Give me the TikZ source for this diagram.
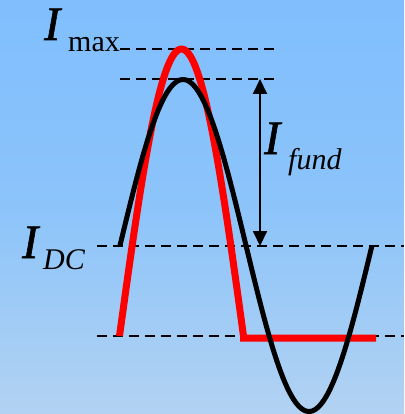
\documentclass[tikz,border=0pt]{standalone}
\usepackage{fontspec}
\setmainfont{Liberation Serif}
\newfontfamily\heavyIfont[FakeBold=1.2]{Liberation Serif}
\usetikzlibrary{arrows.meta}
\definecolor{bgtop}{RGB}{128,190,254}
\definecolor{bgmid}{RGB}{140,196,250}
\definecolor{bgbot}{RGB}{178,210,242}
\tikzset{
  guide/.style={black, line width=2.8pt, dash pattern=on 10pt off 6pt},
  fundwave/.style={black, line width=5pt},
  pulse/.style={red, line width=7pt, line join=miter},
  bigI/.style={font=\fontsize{48}{48}\heavyIfont\itshape, inner sep=0pt, anchor=base west},
  subtxt/.style={font=\fontsize{30}{30}\selectfont, inner sep=0pt, anchor=base west},
  measure/.style={black, line width=2pt, {Triangle[length=15pt,width=14pt]}-{Triangle[length=15pt,width=14pt]}}
}
\begin{document}
\begin{tikzpicture}[x=1pt,y=-1pt]
\useasboundingbox (0,0) rectangle (404,414);
\shade[top color=bgtop, bottom color=bgbot, middle color=bgmid] (0,0) rectangle (404,414);
% guide lines
\draw[guide] (120,49) -- (280,49);
\draw[guide] (120,79) -- (280,79);
\draw[guide] (97,246) -- (404,246);
\draw[guide] (97,336) -- (404,336);
% red pulse
\draw[pulse] plot[domain=-90:90, samples=80] ({181.5+0.68889*\x}, {336-287*cos(\x)}) -- (243.5,338) -- (376,338);
% black fundamental
\draw[fundwave] plot[domain=0:360, samples=120] ({120+0.7*\x}, {245.5-166*sin(\x)});
% arrow
\coordinate (ftop) at (260,79);
\coordinate (fbot) at (260,246);
\draw[measure] (ftop) -- (fbot);
% labels
\node[bigI] (imaxI) at (44,40) {I};
\node[subtxt] (imaxS) at (68,52) {max};
\node[bigI] (idcI) at (22,258) {I};
\node[subtxt, font=\fontsize{30}{30}\selectfont\itshape] (idcS) at (43,269) {DC};
\node[bigI] (ifI) at (264,154) {I};
\node[subtxt, font=\fontsize{30}{30}\selectfont\itshape] (ifS) at (288,169) {fund};
\end{tikzpicture}
\end{document}
